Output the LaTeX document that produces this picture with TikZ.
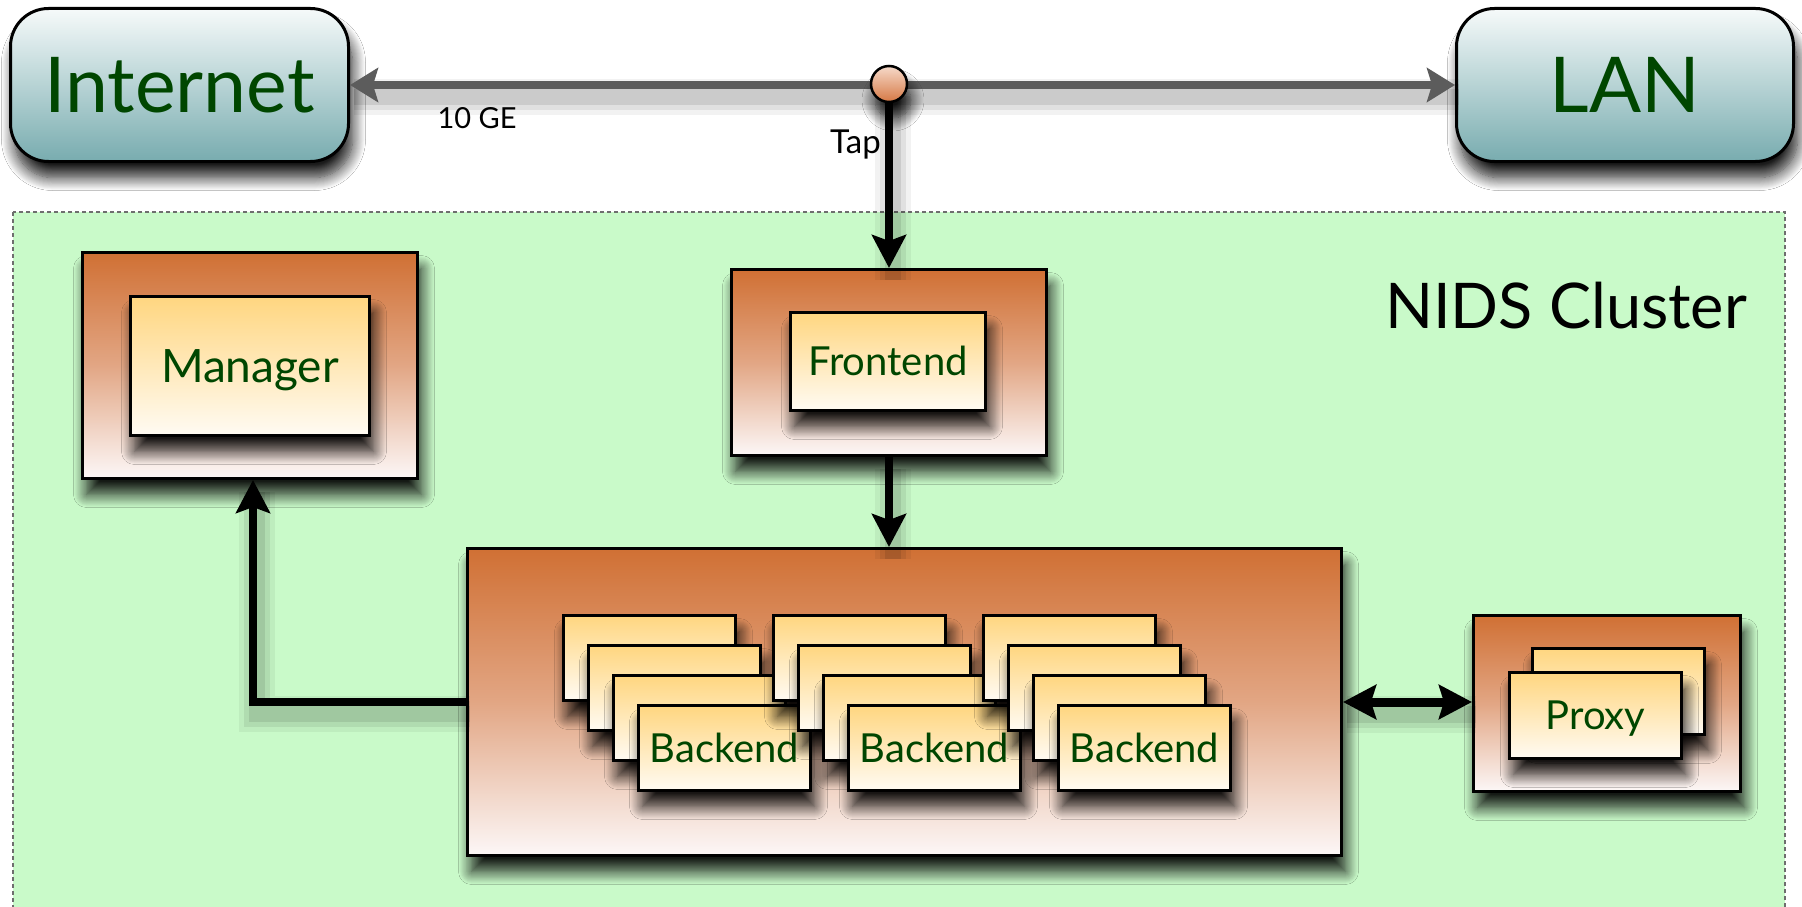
\documentclass[tikz,border=0pt]{standalone}
\usepackage{fontspec}
\setmainfont{Lato}
\usetikzlibrary{arrows.meta,shadows.blur}

\definecolor{txtgreen}{RGB}{0,70,0}
\definecolor{clustergreen}{RGB}{201,250,201}
\definecolor{clusterline}{RGB}{110,110,110}
\definecolor{tealtop}{RGB}{246,250,250}
\definecolor{tealbot}{RGB}{120,172,175}
\definecolor{ortop}{RGB}{208,112,52}
\definecolor{ormid}{RGB}{226,166,132}
\definecolor{orbot}{RGB}{252,247,247}
\definecolor{cardtop}{RGB}{255,214,128}
\definecolor{cardbot}{RGB}{255,251,243}
\definecolor{linkgray}{RGB}{92,92,92}
\definecolor{taptop}{RGB}{246,218,202}
\definecolor{tapbot}{RGB}{214,120,68}

\tikzset{
  x=1pt, y=-1pt,
  softshadow/.style={blur shadow={shadow xshift=4pt, shadow yshift=-16pt,
      shadow blur radius=13pt, shadow opacity=90, shadow blur steps=14}},
  boxline/.style={draw=black, line width=3pt, anchor=north west, inner sep=0pt},
  netbox/.style={boxline, rounded corners=38pt, top color=tealtop, bottom color=tealbot,
      softshadow, text=txtgreen, font=\fontsize{77}{80}\selectfont,
      text height=55.2pt, text depth=0pt},
  hostbox/.style={boxline, top color=ortop, bottom color=orbot, middle color=ormid, softshadow},
  card/.style={boxline, top color=cardtop, bottom color=cardbot, softshadow,
      text=txtgreen, font=\fontsize{40}{44}\selectfont, text height=28.7pt, text depth=0pt},
  bigcard/.style={card, font=\fontsize{46}{50}\selectfont, text height=33pt},
  linkshadow/.style={
      preaction={draw=black, draw opacity=0.05, line width=#1+28pt, arrows=-,
        transform canvas={shift={(4pt,-12pt)}}},
      preaction={draw=black, draw opacity=0.07, line width=#1+18pt, arrows=-,
        transform canvas={shift={(4pt,-12pt)}}},
      preaction={draw=black, draw opacity=0.09, line width=#1+8pt, arrows=-,
        transform canvas={shift={(4pt,-12pt)}}}},
  graylink/.style={draw=linkgray, line width=8pt, linkshadow=8pt,
      arrows={Stealth[length=28pt, width=34pt, inset=5pt]-Stealth[length=28pt, width=34pt, inset=5pt]}},
  blacklink/.style={draw=black, line width=8pt, linkshadow=8pt,
      -{Stealth[length=33pt, width=34pt, inset=6pt]}},
  duallink/.style={draw=black, line width=9pt, linkshadow=9pt,
      arrows={Stealth[length=33pt, width=34pt, inset=5pt]-Stealth[length=33pt, width=34pt, inset=5pt]}},
  smalllabel/.style={text=black, inner sep=0pt, anchor=base},
}

\begin{document}
\begin{tikzpicture}
\useasboundingbox (0,0) rectangle (1802,907);
\clip (0,0) rectangle (1802,907);
\fill[white] (0,0) rectangle (1802,907);

% cluster area
\filldraw[fill=clustergreen, draw=clusterline, line width=1.2pt, dash pattern=on 4pt off 3pt]
  (13,212) rectangle (1785,930);

% cluster title
\node[smalllabel, font=\fontsize{63}{66}\selectfont] (nids) at (1566,328) {NIDS Cluster};

% networks
\node[netbox, minimum width=338pt, minimum height=153pt] (inet) at (9,7) {Internet};
\node[netbox, minimum width=337pt, minimum height=153pt] (lan) at (1455,7) {LAN};

% manager
\node[hostbox, minimum width=335pt, minimum height=226pt] (mgrhost) at (81,251) {};
\node[bigcard, minimum width=239pt, minimum height=139pt] (mgr) at (129,295) {Manager};

% frontend
\node[hostbox, minimum width=315pt, minimum height=186pt] (fehost) at (730,268) {};
\node[card, minimum width=195pt, minimum height=98pt] (fe) at (789,311) {Frontend};

% backends
\node[hostbox, minimum width=874pt, minimum height=307pt] (behost) at (466,547) {};
\foreach \g in {0,1,2} {
  \foreach \k in {0,1,2}
    \node[card, minimum width=172pt, minimum height=85pt] (be\g\k)
      at ({562+210*\g+25*\k},{614+30*\k}) {};
  \node[card, minimum width=172pt, minimum height=85pt] (be\g3)
    at ({637+210*\g},704) {Backend};
}

% proxy
\node[hostbox, minimum width=267pt, minimum height=176pt] (pxhost) at (1472,614) {};
\node[card, minimum width=172pt, minimum height=86pt] (pxback) at (1531,647) {};
\node[card, minimum width=172pt, minimum height=86pt] (px) at (1508,671) {Proxy};

% links
\coordinate (tapc) at (889,84);
\draw[graylink] (inet.east) -- (lan.west);
\draw[blacklink] (tapc) -- (fehost.north);
\draw[blacklink] (fehost.south) -- (fehost.south |- behost.north);
\draw[blacklink] (behost.west) -- (253,702) -- (253,480);
\draw[duallink] (behost.east) -- (behost.east -| pxhost.west);

% tap point
\node[circle, draw=black, line width=2.5pt, minimum size=36pt, inner sep=0pt,
      top color=taptop, bottom color=tapbot, softshadow] (tap) at (tapc) {};

% link labels
\node[smalllabel, font=\fontsize{29}{32}\selectfont] (ge) at (477,128) {10 GE};
\node[smalllabel, anchor=base east, font=\fontsize{33}{36}\selectfont] (taplabel) at (881,153) {Tap};
\end{tikzpicture}
\end{document}
